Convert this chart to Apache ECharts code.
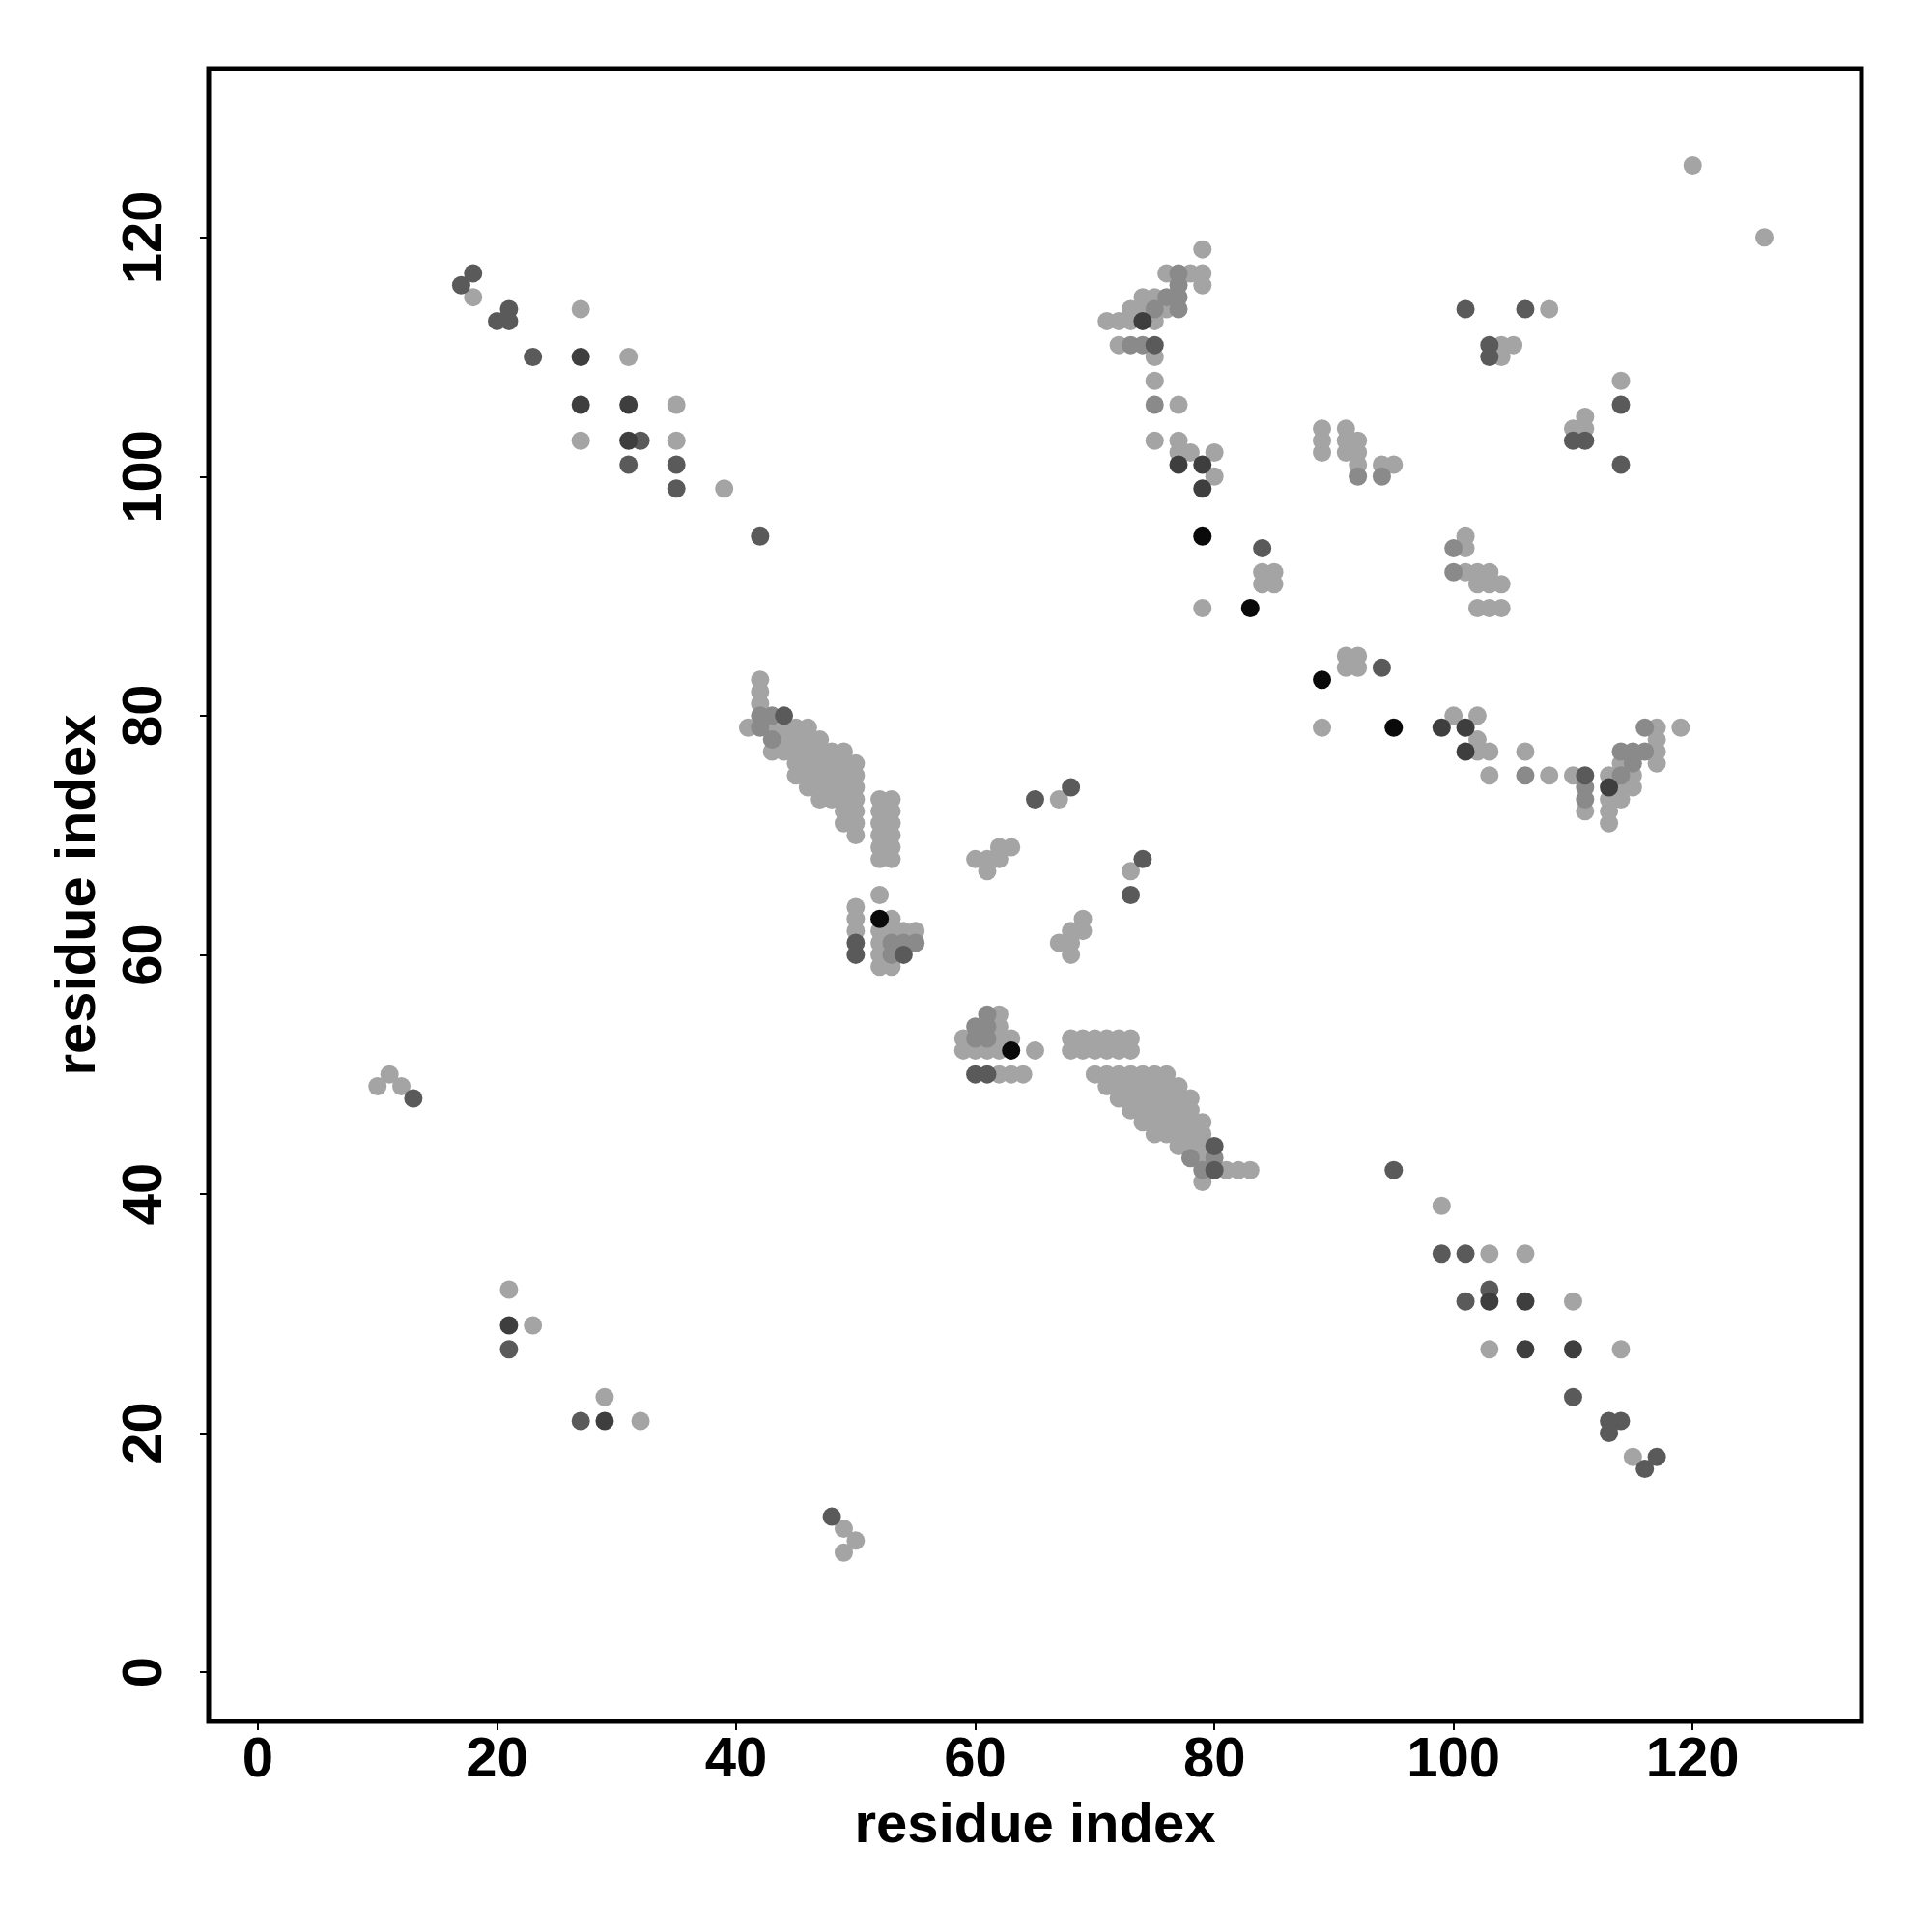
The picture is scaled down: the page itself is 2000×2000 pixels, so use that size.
<!DOCTYPE html>
<html>
<head>
<meta charset="utf-8">
<script src="https://cdn.jsdelivr.net/npm/echarts@6/dist/echarts.min.js"></script>
<style>html,body{margin:0;padding:0;background:#fff}#c{width:2000px;height:2000px}</style>
</head>
<body>
<div id="c"></div>
<script>
// Tick labels
const tickValues = [0, 20, 40, 60, 80, 100, 120];

// Contact points grouped by grey level [x, y]
const lightPoints = [
  [18,115],[27,114],[31,110],[35,106],[27,103],[35,103],[39,99],
  [79,119],[76,117],[78,117],[79,117],[79,116],[74,115],[75,115],[73,114],[74,114],[76,114],
  [71,113],[72,113],[73,113],[75,113],[72,111],[75,110],[75,108],[77,106],[75,103],[77,103],
  [77,102],[78,102],[80,102],[80,100],[79,89],
  [84,92],[85,92],[84,91],[85,91],
  [108,114],[104,111],[105,111],[104,110],[114,108],[111,105],[110,104],[111,104],
  [89,104],[89,103],[89,102],[91,104],[91,103],[91,102],[92,103],[92,102],[92,101],[94,101],[95,101],
  [101,95],[101,94],[101,92],[102,92],[103,92],[102,91],[103,91],[104,91],[102,89],[103,89],[104,89],
  [91,85],[92,85],[91,84],[92,84],[89,79],[100,80],[102,80],[102,78],[102,77],[103,77],[106,77],
  [103,75],[108,75],[110,75],[111,72],[113,75],[113,73],[113,72],[113,71],[114,76],[115,75],
  [115,74],[114,74],[114,73],[117,79],[119,79],[117,78],[117,77],[117,76],
  [42,83],[42,82],[42,81],[41,79],
  [43,79],[43,77],[44,79],[44,78],[44,77],
  [45,79],[45,78],[45,77],[45,76],[45,75],
  [46,79],[46,78],[46,77],[46,76],[46,75],[46,74],
  [47,78],[47,77],[47,76],[47,75],[47,74],[47,73],
  [48,77],[48,76],[48,75],[48,74],[48,73],
  [49,77],[49,76],[49,75],[49,74],[49,73],[49,72],[49,71],
  [50,76],[50,75],[50,74],[50,73],[50,72],[50,71],[50,70],
  [52,73],[52,72],[52,71],[52,70],[52,69],[52,68],[53,73],[53,72],[53,71],[53,70],[53,69],[53,68],
  [52,65],[50,64],[50,63],[50,62],[53,63],[52,62],[53,62],[54,62],[55,62],[52,61],[52,60],[52,59],[53,59],
  [67,73],[73,67],[60,68],[61,68],[61,67],[62,68],[62,69],[63,69],
  [69,63],[68,62],[69,62],[67,61],[68,61],[68,60],
  [62,55],[62,54],[59,53],[62,53],[63,53],[68,53],[69,53],[70,53],[71,53],[72,53],[73,53],
  [59,52],[60,52],[61,52],[62,52],[65,52],[68,52],[69,52],[70,52],[71,52],[72,52],[73,52],
  [62,50],[63,50],[64,50],
  [70,50],[71,50],[72,50],[73,50],[74,50],[75,50],[76,50],
  [71,49],[72,49],[73,49],[74,49],[75,49],[76,49],[77,49],
  [72,48],[73,48],[74,48],[75,48],[76,48],[77,48],[78,48],
  [73,47],[74,47],[75,47],[76,47],[77,47],[78,47],
  [74,46],[75,46],[76,46],[77,46],[78,46],[79,46],
  [75,45],[76,45],[77,45],[78,45],[79,45],
  [77,44],[78,44],[79,44],[79,43],[81,42],[82,42],[83,42],[79,41],
  [11,50],[10,49],[12,49],[21,32],[23,29],[29,23],[32,21],[49,12],[50,11],[49,10],
  [99,39],[103,35],[106,35],[110,31],[103,27],[114,27],[115,18],
  [120,126],[126,120]
];
const midPoints = [
  [77,117],[77,116],[76,115],[77,115],[75,114],[77,114],[73,111],[74,111],[75,106],
  [92,100],[94,100],[100,94],[100,92],
  [106,75],[111,74],[111,73],[114,77],[115,77],[116,77],[115,76],[114,75],[116,79],
  [42,80],[42,79],[43,80],[43,78],
  [53,61],[54,61],[55,61],[53,60],
  [61,55],[60,54],[61,54],[60,53],[61,53],
  [78,43],[80,43],[79,42]
];
const darkPoints = [
  [18,117],[17,116],[21,114],[20,113],[21,113],[23,110],[32,103],[31,101],[35,101],[35,99],[42,95],
  [75,111],[84,94],
  [101,114],[106,114],[103,111],[103,110],[114,106],[110,103],[111,103],[114,101],
  [94,84],[111,75],[44,80],[50,61],[50,60],[54,60],
  [65,73],[68,74],[74,68],[73,65],[60,50],[61,50],[80,44],[80,42],
  [13,48],[21,27],[27,21],[48,13],
  [95,42],[99,35],[101,35],[103,32],[101,31],[110,23],[113,21],[114,21],[113,20],[117,18],[116,17]
];
const darkerPoints = [
  [27,110],[27,106],[31,106],[31,103],
  [74,113],[77,101],[79,101],[79,99],
  [99,79],[101,79],[101,77],[113,74],
  [21,29],[29,21],
  [103,31],[106,31],[106,27],[110,27]
];
const blackPoints = [
  [79,95],[83,89],[89,83],[95,79],[52,63],[63,52]
];

const FONT = '"Liberation Sans", Arial, Helvetica, sans-serif';
const chart = echarts.init(document.getElementById('c'), null, {renderer: 'canvas'});

function mk(data, color) {
  return {
    type: 'scatter', data: data, symbol: 'circle', symbolSize: 19,
    itemStyle: {color: color, opacity: 1}, silent: true, animation: false
  };
}

const axisCommon = {
  type: 'value', min: -4.12, max: 134.12,
  splitLine: {show: false},
  axisLine: {show: false, onZero: false},
  axisTick: {show: true, inside: false, length: 9, lineStyle: {color: '#000', width: 2}, customValues: tickValues},
  axisLabel: {show: true, customValues: tickValues, fontFamily: FONT, fontWeight: 'bold', fontSize: 58, color: '#000'},
  nameLocation: 'middle',
  nameTextStyle: {fontFamily: FONT, fontWeight: 'bold', fontSize: 58, color: '#000'}
};

chart.setOption({
  backgroundColor: '#fff',
  animation: false,
  grid: {left: 216, top: 71, width: 1711, height: 1711, show: true, borderColor: '#000', borderWidth: 5, backgroundColor: 'transparent'},
  xAxis: Object.assign({}, axisCommon, {
    name: 'residue index', nameGap: 80,
    axisLabel: Object.assign({}, axisCommon.axisLabel, {margin: 12})
  }),
  yAxis: Object.assign({}, axisCommon, {
    name: 'residue index', nameGap: 105,
    axisLabel: Object.assign({}, axisCommon.axisLabel, {margin: 36, rotate: 90})
  }),
  series: [
    mk(lightPoints, '#a4a4a4'),
    mk(midPoints, '#8a8a8a'),
    mk(darkPoints, '#5a5a5a'),
    mk(darkerPoints, '#3e3e3e'),
    mk(blackPoints, '#0a0a0a')
  ]
});
</script>
</body>
</html>
